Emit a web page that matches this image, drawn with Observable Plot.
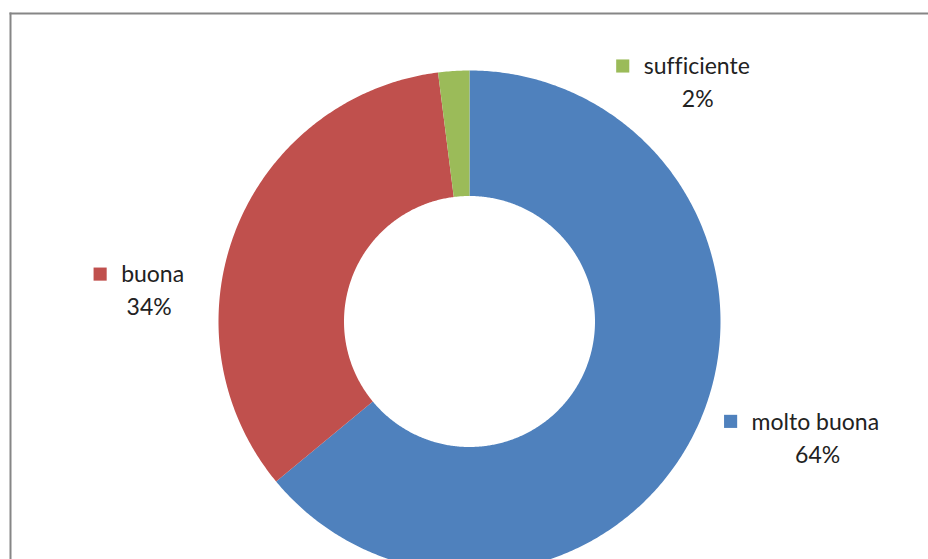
<!DOCTYPE html>
<html>
<head>
<meta charset="utf-8">
<script src="https://cdn.jsdelivr.net/npm/d3@7"></script>
<script src="https://cdn.jsdelivr.net/npm/@observablehq/plot@0.6"></script>
<style>
  html, body { margin: 0; padding: 0; background: #fff; }
  #chart { width: 928px; height: 559px; overflow: hidden; }
  #chart svg text { font-variant-ligatures: none; font-feature-settings: "liga" 0; }
</style>
</head>
<body>
<div id="chart"></div>
<script>
// ---- data ----
const categories = ["molto buona", "buona", "sufficiente"];
const values = [64, 34, 2];
const colors = ["#4F81BD", "#C0504D", "#9BBB59"];

// ---- layout (pixels) ----
const W = 928, H = 559;
const mLeft = 10, mTop = 13;
const cx = 469, cy = 321, R = 251;   // donut centre & outer radius (px)
const innerRatio = 0.5;
// label offsets from each slice's outer mid-point: key square, name, percentage
const labelLayout = [
  {sq: [34, -7],   name: [55, -6],   pct: [121, 27]},
  {sq: [-136, 45], name: [-115, 46], pct: [-87, 79]},
  {sq: [169, -5],  name: [190, -4],  pct: [244, 29]}
];

// ---- geometry ----
const arcs = d3.pie().sort(null)(values);
const poly = [];
arcs.forEach((a, i) => {
  const n = Math.max(2, Math.ceil((a.endAngle - a.startAngle) / (Math.PI / 360)));
  for (let k = 0; k <= n; k++) {
    const t = a.startAngle + (a.endAngle - a.startAngle) * k / n;
    poly.push({cat: categories[i], x: Math.sin(t), y: Math.cos(t)});
  }
  for (let k = n; k >= 0; k--) {
    const t = a.startAngle + (a.endAngle - a.startAngle) * k / n;
    poly.push({cat: categories[i], x: innerRatio * Math.sin(t), y: innerRatio * Math.cos(t)});
  }
});
const total = d3.sum(values);
const labels = arcs.map((a, i) => {
  const m = (a.startAngle + a.endAngle) / 2;
  return {
    cat: categories[i],
    pct: Math.round(values[i] / total * 100) + "%",
    x: Math.sin(m), y: Math.cos(m),
    L: labelLayout[i]
  };
});

const font = "Lato, 'Liberation Sans', sans-serif";
const fs = 23;

const chart = Plot.plot({
  width: W, height: H,
  marginLeft: mLeft, marginTop: mTop, marginRight: 0, marginBottom: 0,
  x: {domain: [(mLeft - cx) / R, (W - cx) / R], axis: null},
  y: {domain: [(cy - H) / R, (cy - mTop) / R], axis: null},
  color: {domain: categories, range: colors},
  style: {background: "#fff", fontFamily: font},
  marks: [
    Plot.line(poly, {x: "x", y: "y", z: "cat", fill: "cat", stroke: "none"}),
    ...labels.map(d => Plot.dot([d], {x: "x", y: "y", dx: d.L.sq[0], dy: d.L.sq[1], symbol: "square", r: 7.4, fill: "cat", stroke: "none"})),
    ...labels.map(d => Plot.text([d], {x: "x", y: "y", dx: d.L.name[0], dy: d.L.name[1], text: "cat", textAnchor: "start", fontSize: fs, fill: "#222", fontFamily: font})),
    ...labels.map(d => Plot.text([d], {x: "x", y: "y", dx: d.L.pct[0], dy: d.L.pct[1], text: "pct", textAnchor: "middle", fontSize: fs, fill: "#222", fontFamily: font})),
    Plot.frame({anchor: "top", stroke: "#868686", strokeWidth: 2}),
    Plot.frame({anchor: "left", stroke: "#868686", strokeWidth: 2})
  ]
});
document.getElementById("chart").appendChild(chart);
</script>
</body>
</html>
